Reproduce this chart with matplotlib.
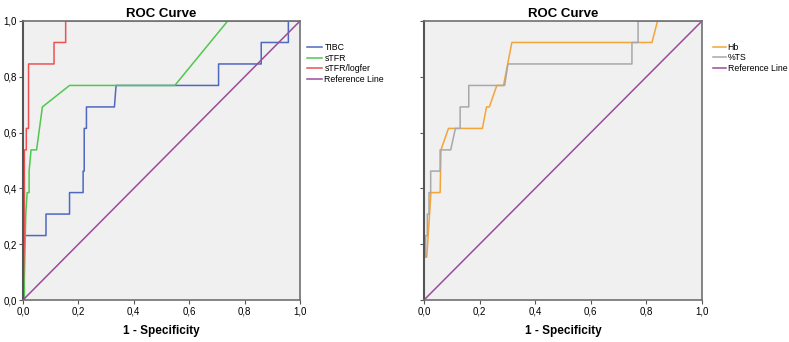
import matplotlib
matplotlib.use('Agg')
import matplotlib.pyplot as plt

plt.rcParams['font.family'] = ['Liberation Sans', 'DejaVu Sans']

# left panel
tibc_x = [0.0, 0.0, 0.083, 0.083, 0.168, 0.168, 0.217, 0.217, 0.221, 0.221, 0.229, 0.229,
          0.330, 0.336, 0.706, 0.706, 0.860, 0.860, 0.958, 0.958, 1.0]
tibc_y = [0.0, 0.231, 0.231, 0.308, 0.308, 0.385, 0.385, 0.462, 0.462, 0.615, 0.615, 0.692,
          0.692, 0.769, 0.769, 0.846, 0.846, 0.923, 0.923, 1.0, 1.0]
stfr_x = [0.0, 0.005, 0.005, 0.010, 0.015, 0.022, 0.022, 0.029, 0.049, 0.070, 0.168, 0.548, 0.739, 1.0]
stfr_y = [0.0, 0.0, 0.077, 0.308, 0.385, 0.385, 0.462, 0.538, 0.538, 0.692, 0.769, 0.769, 1.0, 1.0]
ratio_x = [0.0, 0.005, 0.005, 0.012, 0.012, 0.020, 0.020, 0.112, 0.112, 0.154, 0.154, 1.0]
ratio_y = [0.0, 0.231, 0.538, 0.538, 0.615, 0.615, 0.846, 0.846, 0.923, 0.923, 1.0, 1.0]

# right panel
hb_x = [0.0, 0.0, 0.010, 0.025, 0.058, 0.061, 0.088, 0.210, 0.225, 0.235, 0.262, 0.286, 0.316, 0.820, 0.840, 1.0]
hb_y = [0.0, 0.154, 0.154, 0.385, 0.385, 0.538, 0.615, 0.615, 0.692, 0.692, 0.769, 0.769, 0.923, 0.923, 1.0, 1.0]
ts_x = [0.0, 0.0, 0.006, 0.006, 0.012, 0.012, 0.018, 0.018, 0.024, 0.024, 0.058, 0.058, 0.096, 0.113,
        0.130, 0.130, 0.161, 0.161, 0.290, 0.302, 0.748, 0.748, 0.770, 0.770, 1.0]
ts_y = [0.0, 0.154, 0.154, 0.231, 0.231, 0.308, 0.308, 0.385, 0.385, 0.462, 0.462, 0.538, 0.538, 0.615,
        0.615, 0.692, 0.692, 0.769, 0.769, 0.846, 0.846, 0.923, 0.923, 1.0, 1.0]

ref = [0.0, 1.0]
ticks = [0.0, 0.2, 0.4, 0.6, 0.8, 1.0]
tick_labels = ['0,0', '0,2', '0,4', '0,6', '0,8', '1,0']

fig = plt.figure(figsize=(7.89, 3.42), dpi=100)
ax1 = fig.add_axes([23 / 789, 42 / 342, 277 / 789, 279 / 342])
ax2 = fig.add_axes([424 / 789, 42 / 342, 278 / 789, 279 / 342])

ax1.plot(tibc_x, tibc_y, color='#5068c0', lw=1.1, label='TIBC')
ax1.plot(stfr_x, stfr_y, color='#50c850', lw=1.1, label='sTFR')
ax1.plot(ratio_x, ratio_y, color='#f05050', lw=1.1, label='sTFR/logfer')
ax1.plot(ref, ref, color='#9a4c9a', lw=1.1, label='Reference Line')

ax2.plot(hb_x, hb_y, color='#f5a43a', lw=1.1, label='Hb')
ax2.plot(ts_x, ts_y, color='#a8a8a8', lw=1.1, label='%TS')
ax2.plot(ref, ref, color='#9a4c9a', lw=1.1, label='Reference Line')

for ax in (ax1, ax2):
    ax.set_facecolor('#f0f0f0')
    ax.set_xlim(0, 1)
    ax.set_ylim(0, 1)
    ax.set_xticks(ticks)
    ax.set_xticklabels(tick_labels)
    ax.set_yticks(ticks)
    ax.tick_params(labelsize=7, length=3, width=0.8, color='#555555', pad=1.5)
    for s in ax.spines.values():
        s.set_color('#707070')
        s.set_linewidth(1.2)
    ax.spines['left'].set_color('#555555')
    ax.spines['left'].set_linewidth(1.5)
    ax.set_title('ROC Curve', fontsize=9.5, fontweight='bold', pad=3)
    ax.set_xlabel('1 - Specificity', fontsize=8.5, fontweight='bold', labelpad=6)

ax1.legend(loc='upper left', bbox_to_anchor=(1.025, 0.92), frameon=False, fontsize=6.3,
           handlelength=1.75, handletextpad=0.25, labelspacing=0.17, borderaxespad=0, borderpad=0)
ax2.legend(loc='upper left', bbox_to_anchor=(1.04, 0.922), frameon=False, fontsize=6.3,
           handlelength=1.45, handletextpad=0.2, labelspacing=0.17, borderaxespad=0, borderpad=0)

ax1.set_yticklabels(tick_labels)
ax2.set_yticklabels([])

fig.savefig('out.png', dpi=100)
